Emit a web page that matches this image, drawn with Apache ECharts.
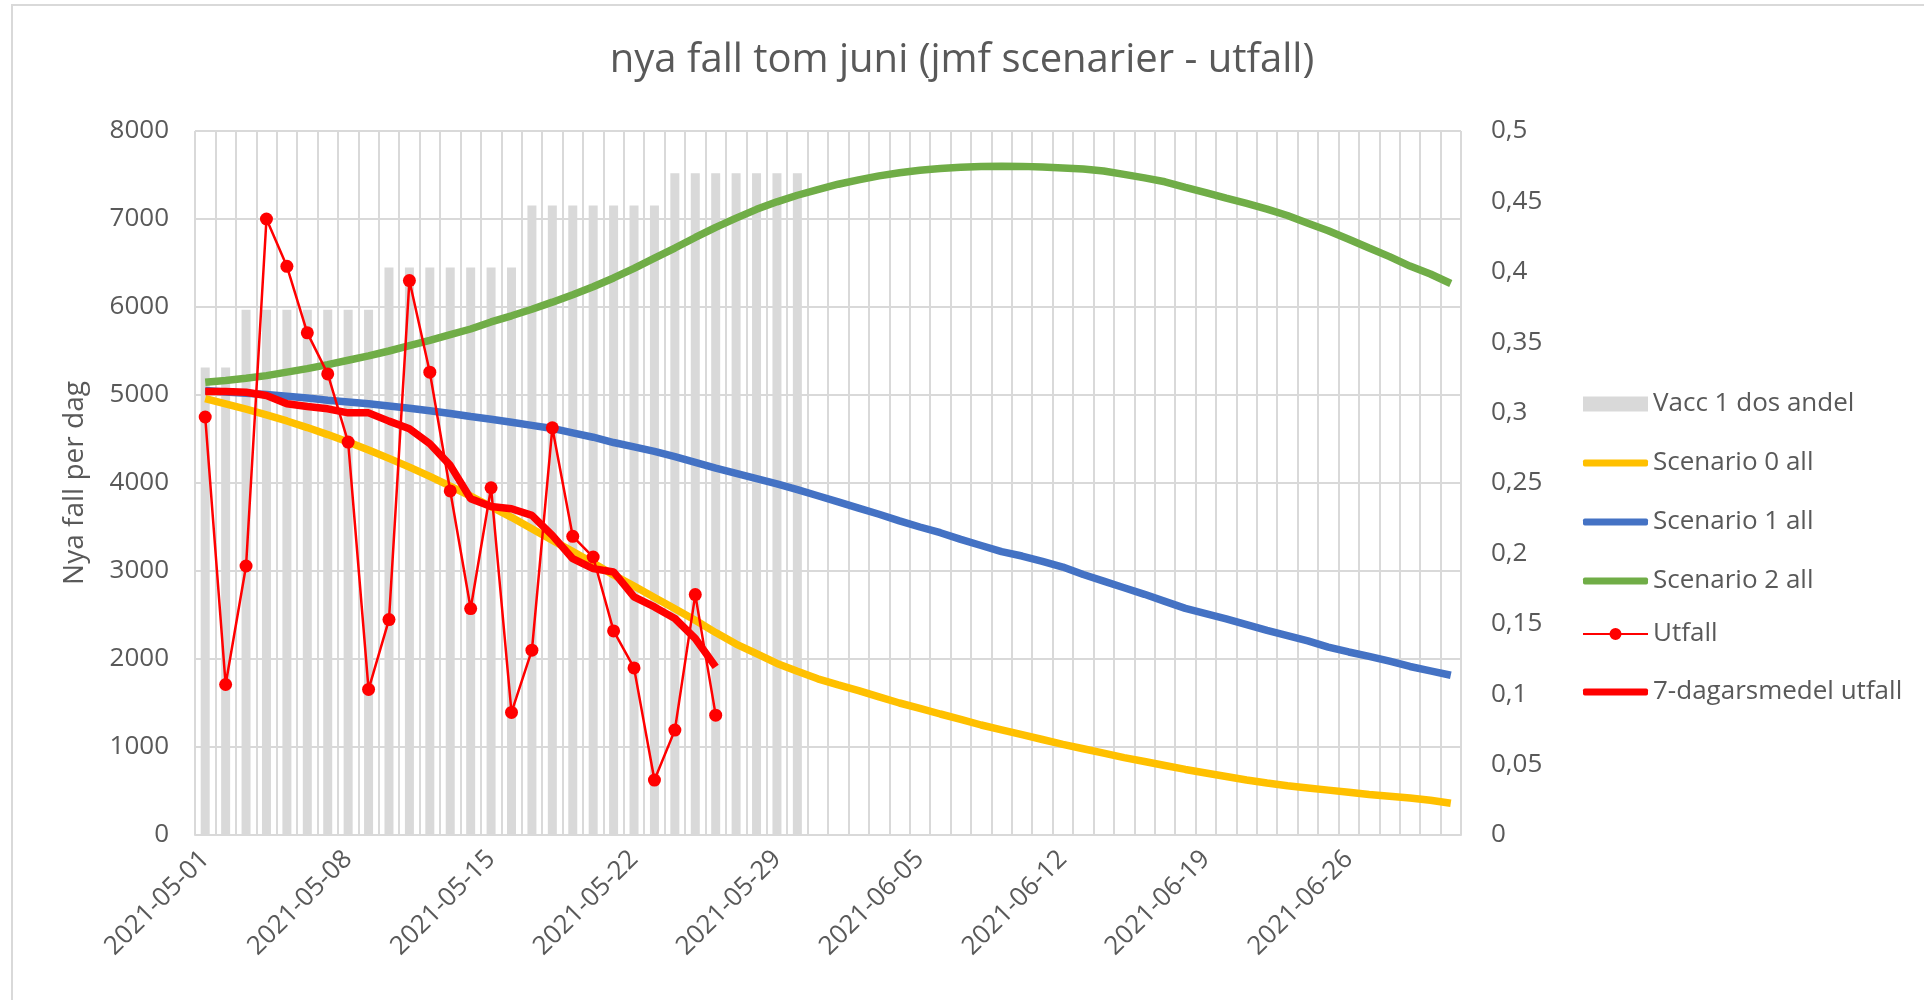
<!DOCTYPE html>
<html>
<head>
<meta charset="utf-8">
<title>nya fall tom juni</title>
<script src="https://cdn.jsdelivr.net/npm/echarts@6/dist/echarts.min.js"></script>
<style>
	html, body { margin: 0; padding: 0; background: #fff; }
	#chart { width: 1924px; height: 1000px; }
</style>
</head>
<body>
<div id="chart"></div>
<script>
// dagar 2021-05-01 .. 2021-07-01
var days = [];
for (var d = 0; d < 62; d++) {
	days.push(new Date(Date.UTC(2021, 4, 1 + d)).toISOString().slice(0, 10));
}

// andel vaccinerade (hoger axel)
var vacc = [
	0.332, 0.332,
	0.373, 0.373, 0.373, 0.373, 0.373, 0.373, 0.373,
	0.403, 0.403, 0.403, 0.403, 0.403, 0.403, 0.403,
	0.447, 0.447, 0.447, 0.447, 0.447, 0.447, 0.447,
	0.470, 0.470, 0.470, 0.470, 0.470, 0.470, 0.470
];

var scen0 = [
	4960, 4900, 4840, 4775, 4705, 4630, 4550, 4465, 4375, 4280,
	4180, 4075, 3965, 3850, 3730, 3610, 3480, 3350, 3220, 3090,
	2955, 2830, 2700, 2570, 2440, 2300, 2170, 2060, 1950, 1860,
	1775, 1705, 1640, 1570, 1500, 1440, 1375, 1315, 1250, 1195,
	1140, 1085, 1030, 980, 930, 880, 835, 790, 745, 705,
	665, 625, 590, 560, 535, 510, 485, 460, 440, 420,
	395, 360
];

var scen1 = [
	5050, 5035, 5020, 5005, 4985, 4965, 4940, 4920, 4900, 4875,
	4850, 4820, 4790, 4755, 4725, 4690, 4655, 4620, 4570, 4520,
	4460, 4410, 4360, 4300, 4235, 4170, 4110, 4050, 3990, 3925,
	3855, 3785, 3715, 3645, 3570, 3500, 3435, 3360, 3290, 3220,
	3170, 3110, 3045, 2960, 2885, 2810, 2735, 2655, 2575, 2515,
	2455, 2390, 2325, 2265, 2205, 2135, 2080, 2030, 1975, 1915,
	1865, 1815
];

var scen2 = [
	5145, 5165, 5190, 5220, 5260, 5300, 5345, 5395, 5445, 5500,
	5560, 5620, 5685, 5750, 5830, 5900, 5975, 6055, 6140, 6230,
	6330, 6440, 6555, 6670, 6790, 6905, 7010, 7110, 7195, 7270,
	7335, 7395, 7445, 7490, 7525, 7555, 7575, 7588, 7597, 7600,
	7598, 7590, 7580, 7568, 7546, 7507, 7467, 7423, 7360, 7300,
	7236, 7177, 7113, 7040, 6952, 6867, 6770, 6670, 6572, 6465,
	6375, 6267
];

var utfall = [
	4750, 1710, 3057, 7000, 6462, 5706, 5240, 4465, 1654, 2448,
	6300, 5259, 3910, 2573, 3946, 1393, 2100, 4627, 3394, 3159,
	2319, 1899, 624, 1192, 2732, 1362
];

var medel7 = [
	5040, 5040, 5032, 4994, 4900, 4870, 4843, 4797, 4797, 4703,
	4616, 4446, 4200, 3822, 3734, 3708, 3632, 3405, 3140, 3027,
	2989, 2705, 2592, 2460, 2233, 1910
];

var leftTicks = [0, 8000, 1000];
var rightTicks = [0, 0.5, 0.05];

var font = "'Open Sans', 'Noto Sans', sans-serif";
var grey = "#595959";
var gridGrey = "#d9d9d9";
var yellow = "#ffc000";
var blue = "#4472c4";
var green = "#70ad47";
var red = "#ff0000";

// legend icon: thin line with a dot
var dotLine = "path://M0,5.5 H65 V7.5 H0 Z M26.5,6.5 A6,6 0 1,1 38.5,6.5 A6,6 0 1,1 26.5,6.5 Z";

var legendBase = {
	orient: "vertical",
	left: 1578,
	itemWidth: 65,
	itemGap: 33,
	textStyle: { color: grey, fontSize: 26, fontFamily: font },
};

var myChart = echarts.init(document.getElementById("chart"));
var option = {
	backgroundColor: "#fff",
	animation: false,
	textStyle: { fontFamily: font },
	title: {
		text: "nya fall tom juni (jmf scenarier - utfall)",
		left: "center",
		top: 41,
		padding: [0, 0, 0, 30],
		textStyle: { color: grey, fontSize: 40, fontWeight: "normal", fontFamily: font },
	},
	graphic: [
		{
			type: "rect",
			shape: { x: 12, y: 5, width: 1940, height: 1020 },
			style: { fill: "none", stroke: gridGrey, lineWidth: 2 },
			silent: true,
		},
	],
	grid: {
		left: 195,
		right: 463,
		top: 131,
		bottom: 165,
	},
	legend: [
		Object.assign({}, legendBase, {
			top: 386,
			itemHeight: 15,
			data: [{ name: "Vacc 1 dos andel", icon: "rect" }],
		}),
		Object.assign({}, legendBase, {
			top: 445,
			itemHeight: 7,
			data: [
				{ name: "Scenario 0 all", icon: "roundRect" },
				{ name: "Scenario 1 all", icon: "roundRect" },
				{ name: "Scenario 2 all", icon: "roundRect" },
			],
		}),
		Object.assign({}, legendBase, {
			top: 616,
			itemHeight: 12,
			data: [{ name: "Utfall", icon: dotLine }],
		}),
		Object.assign({}, legendBase, {
			top: 674,
			itemHeight: 7,
			data: [{ name: "7-dagarsmedel utfall", icon: "roundRect" }],
		}),
	],
	xAxis: {
		type: "category",
		data: days,
		boundaryGap: true,
		axisLine: { lineStyle: { color: gridGrey, width: 2 } },
		axisTick: { show: false },
		axisLabel: {
			interval: 6,
			rotate: 45,
			margin: 20,
			color: grey,
			fontSize: 26,
			fontFamily: font,
		},
		splitLine: { show: true, interval: 0, lineStyle: { color: gridGrey, width: 2 } },
	},
	yAxis: [
		{
			type: "value",
			min: leftTicks[0],
			max: leftTicks[1],
			interval: leftTicks[2],
			name: "Nya fall per dag",
			nameLocation: "middle",
			nameRotate: 90,
			nameGap: 106,
			nameTextStyle: { color: grey, fontSize: 28, fontFamily: font },
			axisLine: { show: false },
			axisTick: { show: false },
			axisLabel: {
				color: grey,
				fontSize: 26,
				margin: 26,
				fontFamily: font,
				formatter: function (v) {
					return String(v);
				},
			},
			splitLine: { lineStyle: { color: gridGrey, width: 2 } },
		},
		{
			type: "value",
			min: rightTicks[0],
			max: rightTicks[1],
			interval: rightTicks[2],
			axisLine: { show: false },
			axisTick: { show: false },
			splitLine: { show: false },
			axisLabel: {
				color: grey,
				fontSize: 26,
				margin: 30,
				fontFamily: font,
				formatter: function (v) {
					return String(+v.toFixed(2)).replace(".", ",");
				},
			},
		},
	],
	series: [
		{
			name: "Vacc 1 dos andel",
			type: "bar",
			yAxisIndex: 1,
			data: vacc,
			barWidth: 9,
			itemStyle: { color: gridGrey },
			z: 1,
		},
		{
			name: "Scenario 0 all",
			type: "line",
			data: scen0,
			symbol: "none",
			lineStyle: { color: yellow, width: 7.5 },
			itemStyle: { color: yellow },
			z: 3,
		},
		{
			name: "Scenario 1 all",
			type: "line",
			data: scen1,
			symbol: "none",
			lineStyle: { color: blue, width: 7.5 },
			itemStyle: { color: blue },
			z: 3,
		},
		{
			name: "Scenario 2 all",
			type: "line",
			data: scen2,
			symbol: "none",
			lineStyle: { color: green, width: 7.5 },
			itemStyle: { color: green },
			z: 3,
		},
		{
			name: "Utfall",
			type: "line",
			data: utfall,
			symbol: "circle",
			symbolSize: 13,
			lineStyle: { color: red, width: 2.5 },
			itemStyle: { color: red },
			z: 4,
		},
		{
			name: "7-dagarsmedel utfall",
			type: "line",
			data: medel7,
			symbol: "none",
			lineStyle: { color: red, width: 7.5 },
			itemStyle: { color: red },
			z: 4,
		},
	],
};

option && myChart.setOption(option);
</script>
</body>
</html>
